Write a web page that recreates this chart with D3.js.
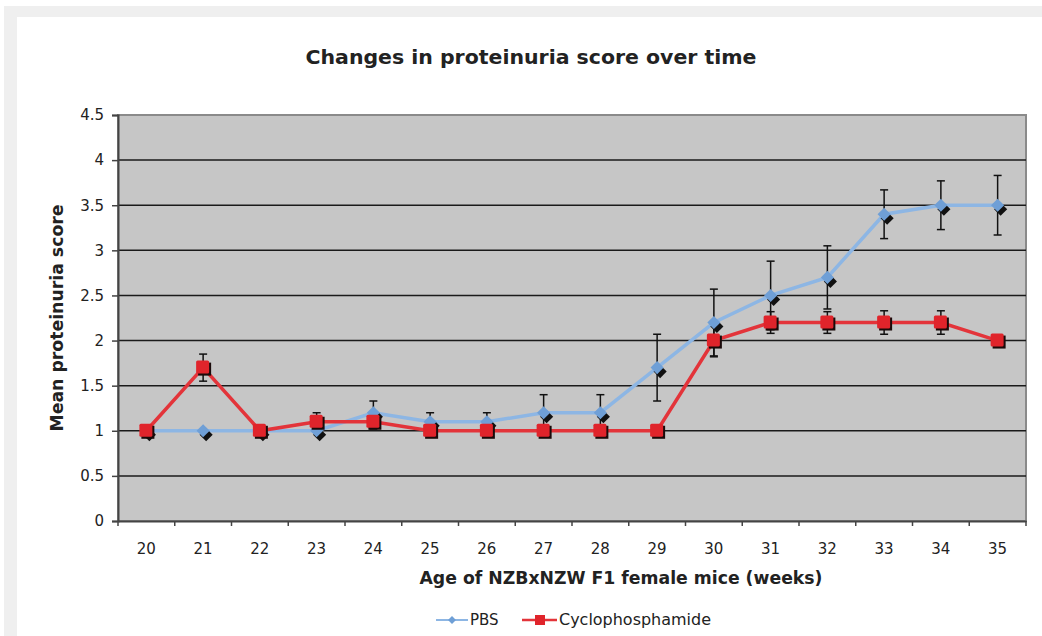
<!DOCTYPE html>
<html lang="en">
  <head>
    <meta charset="UTF-8" />
    <title>Changes in proteinuria score over time</title>
    <style>
      body {
        margin: 0;
        background: #fff;
      }
      svg text {
        font-family: "DejaVu Sans", Verdana, sans-serif;
        fill: #222;
      }
    </style>
  </head>
  <body>
    <svg width="1042" height="636" id="chart"></svg>

    <script src="https://d3js.org/d3.v7.min.js"></script>
    <script>
      var weeks = [20, 21, 22, 23, 24, 25, 26, 27, 28, 29, 30, 31, 32, 33, 34, 35];
      var pbs = [1, 1, 1, 1, 1.2, 1.1, 1.1, 1.2, 1.2, 1.7, 2.2, 2.5, 2.7, 3.4, 3.5, 3.5];
      var pbsErr = [0, 0, 0, 0, 0.13, 0.1, 0.1, 0.2, 0.2, 0.37, 0.37, 0.38, 0.35, 0.27, 0.27, 0.33];
      var cyclo = [1, 1.7, 1, 1.1, 1.1, 1, 1, 1, 1, 1, 2, 2.2, 2.2, 2.2, 2.2, 2];
      var cycloErr = [0, 0.15, 0, 0.1, 0.08, 0, 0, 0, 0, 0, 0.18, 0.12, 0.12, 0.13, 0.13, 0];
      var yTicks = [0, 0.5, 1, 1.5, 2, 2.5, 3, 3.5, 4, 4.5];

      var pLeft = 118, pRight = 1026, pTop = 115, pBottom = 521;
      var svg = d3.select("#chart");

      // outer frame
      svg.append("rect").attr("x", 4).attr("y", 6).attr("width", 1038).attr("height", 630).attr("fill", "#efefef");
      svg.append("rect").attr("x", 17).attr("y", 17).attr("width", 1025).attr("height", 619).attr("fill", "#fff");

      var x = d3.scaleBand().domain(weeks).range([pLeft, pRight]);
      var y = d3.scaleLinear().domain([0, 4.5]).range([pBottom, pTop]);
      var cx = function (w) { return x(w) + x.bandwidth() / 2; };

      svg.append("rect")
        .attr("x", pLeft).attr("y", pTop)
        .attr("width", pRight - pLeft).attr("height", pBottom - pTop)
        .attr("fill", "#c6c6c6")
        .attr("stroke", "#8a8a8a").attr("stroke-width", 2);

      // grid lines
      svg.append("g")
        .selectAll("line")
        .data(yTicks.filter(function (d) { return d > 0 && d < 4.5; }))
        .join("line")
        .attr("x1", pLeft).attr("x2", pRight)
        .attr("y1", function (d) { return y(d); })
        .attr("y2", function (d) { return y(d); })
        .attr("stroke", "#1a1a1a").attr("stroke-width", 1.5);

      // y axis
      var yAxis = svg.append("g")
        .attr("transform", "translate(" + pLeft + ",0)")
        .call(d3.axisLeft(y).tickValues(yTicks).tickSize(6).tickPadding(8).tickFormat(d3.format("")));
      yAxis.select(".domain").attr("stroke", "#444").attr("stroke-width", 2);
      yAxis.selectAll(".tick line").attr("stroke", "#444").attr("stroke-width", 1.5);
      yAxis.selectAll("text").style("font-size", "15px").attr("fill", "#333");

      // x axis
      var xAxis = svg.append("g")
        .attr("transform", "translate(0," + pBottom + ")")
        .call(d3.axisBottom(x).tickSize(0).tickPadding(22));
      xAxis.select(".domain").attr("stroke", "#444").attr("stroke-width", 2);
      xAxis.selectAll("text").style("font-size", "15px").attr("fill", "#333");
      xAxis.selectAll(".boundary")
        .data(d3.range(weeks.length + 1))
        .join("line")
        .attr("x1", function (i) { return pLeft + i * x.bandwidth(); })
        .attr("x2", function (i) { return pLeft + i * x.bandwidth(); })
        .attr("y1", 0).attr("y2", 5)
        .attr("stroke", "#444").attr("stroke-width", 1.5);

      var line = d3.line()
        .x(function (d) { return cx(d.w); })
        .y(function (d) { return y(d.v); });

      function series(vals, errs) {
        return weeks.map(function (w, i) { return { w: w, v: vals[i], e: errs[i] }; });
      }
      var pbsData = series(pbs, pbsErr);
      var cycloData = series(cyclo, cycloErr);

      function errorBars(data) {
        var g = svg.append("g").attr("stroke", "#111").attr("stroke-width", 1.5);
        var d2 = data.filter(function (d) { return d.e > 0; });
        g.selectAll(".v").data(d2).join("line")
          .attr("x1", function (d) { return cx(d.w); }).attr("x2", function (d) { return cx(d.w); })
          .attr("y1", function (d) { return y(d.v - d.e); }).attr("y2", function (d) { return y(d.v + d.e); });
        [-1, 1].forEach(function (s) {
          g.append("g").selectAll("line").data(d2).join("line")
            .attr("x1", function (d) { return cx(d.w) - 4; }).attr("x2", function (d) { return cx(d.w) + 4; })
            .attr("y1", function (d) { return y(d.v + s * d.e); }).attr("y2", function (d) { return y(d.v + s * d.e); });
        });
      }

      errorBars(pbsData);
      errorBars(cycloData);

      // PBS line and markers
      svg.append("path").datum(pbsData).attr("d", line)
        .attr("fill", "none").attr("stroke", "#8db6e4").attr("stroke-width", 3.5);
      var diamond = d3.symbol().type(d3.symbolDiamond2).size(110);
      svg.append("g").selectAll("path").data(pbsData).join("path")
        .attr("d", diamond)
        .attr("transform", function (d) { return "translate(" + (cx(d.w) + 3) + "," + (y(d.v) + 4) + ")"; })
        .attr("fill", "#111");
      svg.append("g").selectAll("path").data(pbsData).join("path")
        .attr("d", diamond)
        .attr("transform", function (d) { return "translate(" + cx(d.w) + "," + y(d.v) + ")"; })
        .attr("fill", "#6f9fd6");

      // Cyclophosphamide line and markers
      svg.append("path").datum(cycloData).attr("d", line)
        .attr("fill", "none").attr("stroke", "#e3343a").attr("stroke-width", 3.5);
      svg.append("g").selectAll("rect").data(cycloData).join("rect")
        .attr("x", function (d) { return cx(d.w) - 5; })
        .attr("y", function (d) { return y(d.v) - 5; })
        .attr("width", 13).attr("height", 13).attr("fill", "#1a0a0a");
      svg.append("g").selectAll("rect").data(cycloData).join("rect")
        .attr("x", function (d) { return cx(d.w) - 7; })
        .attr("y", function (d) { return y(d.v) - 7; })
        .attr("width", 13).attr("height", 13).attr("rx", 1.5).attr("fill", "#e0242b");

      // titles
      svg.append("text").attr("x", 531).attr("y", 64).attr("text-anchor", "middle")
        .style("font-size", "19px").style("font-weight", "bold").attr("fill", "#111")
        .attr("textLength", 451).attr("lengthAdjust", "spacingAndGlyphs")
        .text("Changes in proteinuria score over time");
      svg.append("text").attr("x", 621).attr("y", 584).attr("text-anchor", "middle")
        .style("font-size", "17px").style("font-weight", "bold").attr("fill", "#111")
        .attr("textLength", 403).attr("lengthAdjust", "spacingAndGlyphs")
        .text("Age of NZBxNZW F1 female mice (weeks)");
      svg.append("text")
        .attr("transform", "translate(63," + (pTop + pBottom) / 2 + ") rotate(-90)")
        .attr("text-anchor", "middle")
        .style("font-size", "17px").style("font-weight", "bold").attr("fill", "#111")
        .attr("textLength", 227).attr("lengthAdjust", "spacingAndGlyphs")
        .text("Mean proteinuria score");

      // legend
      var lg = svg.append("g").attr("transform", "translate(0,620)");
      lg.append("line").attr("x1", 436).attr("x2", 468).attr("stroke", "#8db6e4").attr("stroke-width", 2);
      lg.append("path").attr("d", d3.symbol().type(d3.symbolDiamond2).size(40)).attr("transform", "translate(452,0)").attr("fill", "#6f9fd6");
      lg.append("text").attr("x", 470).attr("y", 5).style("font-size", "15px").attr("fill", "#333").text("PBS");
      lg.append("line").attr("x1", 522).attr("x2", 557).attr("stroke", "#e3343a").attr("stroke-width", 2.5);
      lg.append("rect").attr("x", 535).attr("y", -5).attr("width", 10).attr("height", 10).attr("fill", "#e0242b");
      lg.append("text").attr("x", 559).attr("y", 5).style("font-size", "15px").attr("fill", "#333")
        .attr("textLength", 152).attr("lengthAdjust", "spacingAndGlyphs").text("Cyclophosphamide");
    </script>
  </body>
</html>
